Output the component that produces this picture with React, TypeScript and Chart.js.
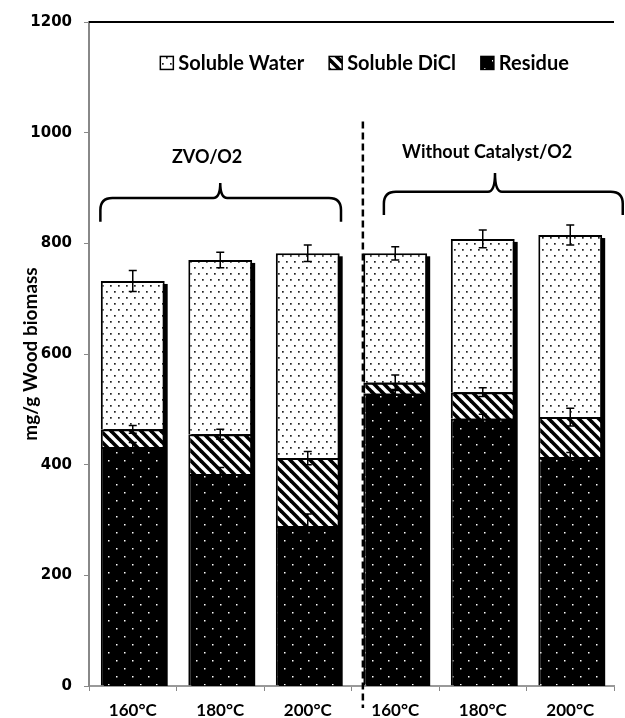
import React, { useEffect, useRef } from "react";
import { Chart, registerables } from "chart.js";

Chart.register(...registerables);

// ---------- data ----------
const categories = ["160°C", "180°C", "200°C", "160°C", "180°C", "200°C"];
const seriesNames = ["Soluble Water", "Soluble DiCl", "Residue"];
const residue = [432, 383, 289, 528, 483, 414];
const solubleDiCl = [32, 72, 123, 20, 48, 72];
const solubleWater = [268, 315, 370, 234, 277, 329];
const residueErr = [8, 12, 22, 8, 8, 8];
const diclErr = [7, 9, 12, 14, 8, 16];
const waterErr = [19, 14, 15, 12, 16, 18];
const yTicks = [0, 200, 400, 600, 800, 1000, 1200];
const groupLabels = ["ZVO/O2", "Without Catalyst/O2"];
// annotation anchors in data units (category index, value)
const bracketLeft = { x0: -0.37, x1: 2.38, peak: 1.0, line: 882, end: 839, top: 909, label: 0.85, labelY: 956 };
const bracketRight = { x0: 2.87, x1: 5.6, peak: 4.14, line: 893, end: 851, top: 927, label: 4.05, labelY: 965 };
const dividerX = 2.63;
const legendCenter = { x: 2.65, y: 1126 };

const FONT = "Lato, 'Open Sans', sans-serif";

export default function App() {
  const ref = useRef<HTMLCanvasElement>(null);

  useEffect(() => {
    document.body.style.margin = "0";
    const canvas = ref.current!;
    const ctx = canvas.getContext("2d")!;

    const dotPattern = (bg: string, fg: string, w: number, h: number, dots: number[][], r: number) => {
      const c = document.createElement("canvas");
      c.width = w;
      c.height = h;
      const g = c.getContext("2d")!;
      g.fillStyle = bg;
      g.fillRect(0, 0, w, h);
      g.fillStyle = fg;
      dots.forEach(([dx, dy]) => g.fillRect(dx, dy, r, r));
      return ctx.createPattern(c, "repeat")!;
    };
    const stripePattern = () => {
      const c = document.createElement("canvas");
      c.width = 10;
      c.height = 10;
      const g = c.getContext("2d")!;
      g.fillStyle = "#fff";
      g.fillRect(0, 0, 10, 10);
      g.strokeStyle = "#000";
      g.lineWidth = 3.6;
      for (const k of [-10, 0, 10]) {
        g.beginPath();
        g.moveTo(k - 3, -3);
        g.lineTo(k + 13, 13);
        g.stroke();
      }
      return ctx.createPattern(c, "repeat")!;
    };

    const waterPat = dotPattern("#fff", "#222", 8, 12, [[2, 3], [6, 9]], 1.7);
    const diclPat = stripePattern();
    const residuePat = dotPattern("#000", "#fff", 16, 16, [[4, 4], [12, 12]], 1.5);

    const border = { top: 2, left: 2, right: 2, bottom: 0 };

    const extras = {
      id: "extras",
      beforeDatasetsDraw(chart: any) {
        const { ctx: c, scales } = chart;
        const y = scales.y;
        const top = chart.getDatasetMeta(2);
        c.save();
        c.fillStyle = "#000";
        top.data.forEach((bar: any) => {
          const w = bar.width;
          const base = y.getPixelForValue(0);
          c.fillRect(bar.x - w / 2 + 3, bar.y + 3, w, base - bar.y - 3);
        });
        c.restore();
      },
      afterDatasetsDraw(chart: any) {
        const { ctx: c, scales } = chart;
        const y = scales.y;
        const stacks = [residue, solubleDiCl, solubleWater];
        const errs = [residueErr, diclErr, waterErr];
        c.save();
        c.strokeStyle = "#000";
        c.lineWidth = 1.5;
        for (let d = 0; d < 3; d++) {
          const meta = chart.getDatasetMeta(d);
          meta.data.forEach((bar: any, i: number) => {
            let cum = 0;
            for (let k = 0; k <= d; k++) cum += stacks[k][i];
            const yHi = y.getPixelForValue(cum + errs[d][i]);
            const yLo = y.getPixelForValue(cum - errs[d][i]);
            const x = bar.x;
            c.beginPath();
            c.moveTo(x, yHi);
            c.lineTo(x, yLo);
            c.moveTo(x - 4, yHi);
            c.lineTo(x + 4, yHi);
            c.moveTo(x - 4, yLo);
            c.lineTo(x + 4, yLo);
            c.stroke();
          });
        }
        c.restore();
      },
      afterDraw(chart: any) {
        const { ctx: c, scales, chartArea } = chart;
        const x = scales.x;
        const y = scales.y;
        c.save();
        // top frame line
        c.strokeStyle = "#000";
        c.lineWidth = 2;
        c.beginPath();
        c.moveTo(chartArea.left, chartArea.top);
        c.lineTo(chartArea.right, chartArea.top);
        c.stroke();

        // divider dashed line
        const dx = x.getPixelForValue(dividerX);
        c.setLineDash([7, 4]);
        c.lineWidth = 2.5;
        c.beginPath();
        c.moveTo(dx, y.getPixelForValue(1020));
        c.lineTo(dx, chart.height - 10);
        c.stroke();
        c.setLineDash([]);

        // brackets
        const brace = (b: any) => {
          const x0 = x.getPixelForValue(b.x0);
          const x1 = x.getPixelForValue(b.x1);
          const xp = x.getPixelForValue(b.peak);
          const yl = y.getPixelForValue(b.line);
          const ye = y.getPixelForValue(b.end);
          const yt = y.getPixelForValue(b.top);
          const r = 12;
          const r2 = 7;
          c.lineWidth = 2.5;
          c.beginPath();
          c.moveTo(x0, ye);
          c.lineTo(x0, yl + r);
          c.quadraticCurveTo(x0, yl, x0 + r, yl);
          c.lineTo(xp - r2, yl);
          c.quadraticCurveTo(xp, yl, xp, yt);
          c.quadraticCurveTo(xp, yl, xp + r2, yl);
          c.lineTo(x1 - r, yl);
          c.quadraticCurveTo(x1, yl, x1, yl + r);
          c.lineTo(x1, ye);
          c.stroke();
        };
        brace(bracketLeft);
        brace(bracketRight);

        c.fillStyle = "#000";
        c.font = `bold 18px ${FONT}`;
        c.textAlign = "center";
        c.textBaseline = "middle";
        c.fillText(groupLabels[0], x.getPixelForValue(bracketLeft.label), y.getPixelForValue(bracketLeft.labelY));
        c.fillText(groupLabels[1], x.getPixelForValue(bracketRight.label), y.getPixelForValue(bracketRight.labelY));

        // legend
        const pats = [waterPat, diclPat, residuePat];
        c.font = `bold 20px ${FONT}`;
        const box = 13;
        const gap = 5;
        const spacing = 25;
        const widths = seriesNames.map((s) => c.measureText(s).width);
        const total = widths.reduce((a, w) => a + box + gap + w, 0) + spacing * (seriesNames.length - 1);
        let lx = x.getPixelForValue(legendCenter.x) - total / 2;
        const ly = y.getPixelForValue(legendCenter.y);
        c.textAlign = "left";
        seriesNames.forEach((s, i) => {
          c.fillStyle = pats[i];
          c.fillRect(lx, ly - box / 2, box, box);
          c.strokeStyle = "#000";
          c.lineWidth = 1.5;
          c.strokeRect(lx, ly - box / 2, box, box);
          c.fillStyle = "#000";
          c.fillText(s, lx + box + gap, ly + 1);
          lx += box + gap + widths[i] + spacing;
        });
        c.restore();
      },
    };

    const chart = new Chart(canvas, {
      type: "bar",
      data: {
        labels: categories,
        datasets: [
          { label: seriesNames[2], data: residue, backgroundColor: residuePat, borderColor: "#000", borderWidth: border, borderSkipped: false },
          { label: seriesNames[1], data: solubleDiCl, backgroundColor: diclPat, borderColor: "#000", borderWidth: border, borderSkipped: false },
          { label: seriesNames[0], data: solubleWater, backgroundColor: waterPat, borderColor: "#000", borderWidth: border, borderSkipped: false },
        ],
      },
      options: {
        responsive: false,
        animation: false,
        events: [],
        layout: { padding: { top: 22, right: 11, bottom: 0, left: 0 } },
        datasets: { bar: { categoryPercentage: 1, barPercentage: 0.73 } },
        plugins: { legend: { display: false }, tooltip: { enabled: false } },
        scales: {
          x: {
            stacked: true,
            afterFit: (s: any) => { s.height = 32; },
            grid: { display: true, drawOnChartArea: false, drawTicks: true, tickLength: 5, offset: true, color: "#888" },
            border: { display: true, color: "#999", width: 2 },
            ticks: { color: "#000", padding: 9, font: { family: FONT, weight: "bold", size: 17 } },
          },
          y: {
            stacked: true,
            min: 0,
            max: 1200,
            afterFit: (s: any) => { s.width = 89; },
            afterBuildTicks: (s: any) => { s.ticks = yTicks.map((v) => ({ value: v })); },
            grid: { display: true, drawOnChartArea: false, drawTicks: true, tickLength: 5, color: "#888" },
            border: { display: true, color: "#888", width: 2 },
            ticks: {
              color: "#000",
              padding: 12,
              callback: (v: any) => String(v),
              font: { family: "'DejaVu Sans', sans-serif", weight: "bold", size: 15 },
            },
            title: {
              display: true,
              text: "mg/g Wood biomass",
              color: "#000",
              padding: { top: 19, bottom: 0 },
              font: { family: FONT, weight: "bold", size: 19 },
            },
          },
        },
      },
      plugins: [extras],
    } as any);

    return () => chart.destroy();
  }, []);

  return <canvas ref={ref} width={625} height={718} style={{ display: "block", width: 625, height: 718 }} />;
}
